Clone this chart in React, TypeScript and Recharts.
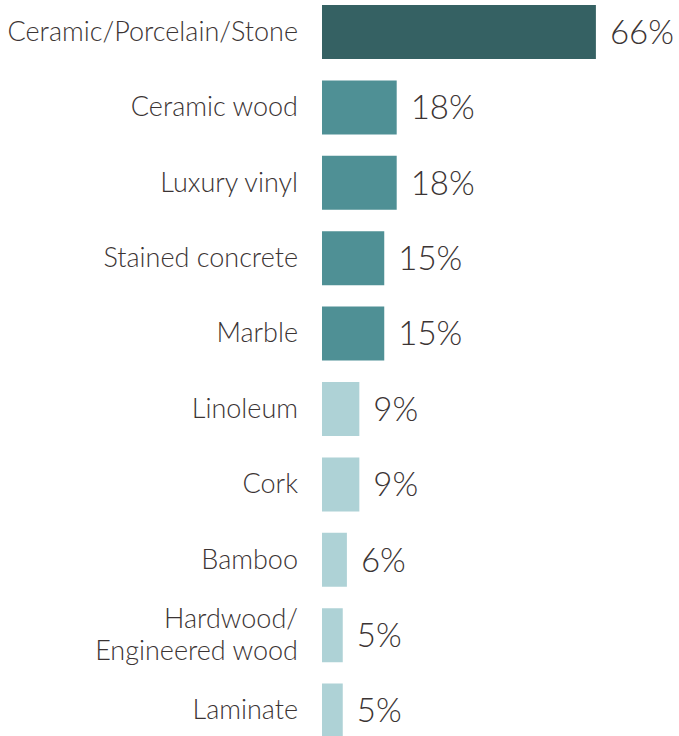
import React from "react";
import { BarChart, Bar, XAxis, YAxis, Cell, LabelList } from "recharts";

const categories = [
  "Ceramic/Porcelain/Stone",
  "Ceramic wood",
  "Luxury vinyl",
  "Stained concrete",
  "Marble",
  "Linoleum",
  "Cork",
  "Bamboo",
  "Hardwood/\nEngineered wood",
  "Laminate",
];
const values = [66, 18, 18, 15, 15, 9, 9, 6, 5, 5];
const tiers = ["dark", "mid", "mid", "mid", "mid", "light", "light", "light", "light", "light"];

const tierColors: Record<string, string> = {
  dark: "#356163",
  mid: "#4f9095",
  light: "#aed2d6",
};

const data = categories.map((name, i) => ({ name, value: values[i], tier: tiers[i] }));

const FONT = "Lato, 'Open Sans', sans-serif";
const TEXT = "#3b3434";

const CategoryTick = (props: any) => {
  const { x, y, payload } = props;
  const lines = String(payload.value).split("\n");
  const lh = 32;
  const start = y - 2 - ((lines.length - 1) * lh) / 2;
  return (
    <text
      x={x}
      y={start}
      textAnchor="end"
      dominantBaseline="central"
      fontFamily={FONT}
      fontWeight={300}
      fontSize={27}
      fill={TEXT}
    >
      {lines.map((l: string, i: number) => (
        <tspan key={i} x={x} y={start + i * lh} dominantBaseline="central">
          {l}
        </tspan>
      ))}
    </text>
  );
};

export default function App() {
  return (
    <div style={{ position: "absolute", left: 0, top: -6 }}>
      <BarChart
        width={679}
        height={760}
        data={data}
        layout="vertical"
        margin={{ top: 0, right: 25, bottom: 6, left: 0 }}
        barSize={54}
      >
        <XAxis type="number" domain={[0, 80]} hide />
        <YAxis
          type="category"
          dataKey="name"
          width={322}
          axisLine={false}
          tickLine={false}
          tickSize={0}
          tickMargin={24}
          interval={0}
          tick={<CategoryTick />}
        />
        <Bar dataKey="value" isAnimationActive={false}>
          {data.map((d, i) => (
            <Cell key={i} fill={tierColors[d.tier]} />
          ))}
          <LabelList
            dataKey="value"
            position="right"
            offset={14}
            formatter={(v: any) => `${v}%`}
            style={{ fontFamily: FONT, fontWeight: 300, fontSize: 33, fill: TEXT }}
          />
        </Bar>
      </BarChart>
    </div>
  );
}
